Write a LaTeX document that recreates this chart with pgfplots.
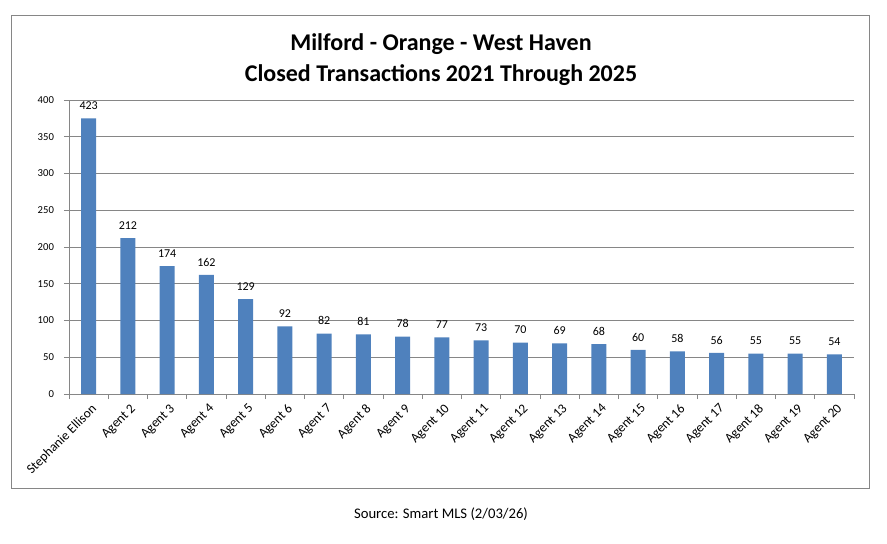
\documentclass[border=0pt]{standalone}
\usepackage{pgfplots}
\pgfplotsset{compat=1.18}
\usepackage{pgfplotstable}
\usepackage{fontspec}
\setmainfont{Carlito}
\definecolor{barblue}{RGB}{79,129,189}
\definecolor{gridgray}{RGB}{134,134,134}
\pgfplotstableread{
x y lab
0 375 423
1 212 212
2 174 174
3 162 162
4 129 129
5 92 92
6 82 82
7 81 81
8 78 78
9 77 77
10 73 73
11 70 70
12 69 69
13 68 68
14 60 60
15 58 58
16 56 56
17 55 55
18 55 55
19 54 54
}\datatable
\begin{document}
\begin{tikzpicture}
\path (-51.75pt,-111.75pt) rectangle (613.5pt,295.5pt);
\draw[gridgray, line width=0.75pt] (-42.75pt,-70.5pt) rectangle (600pt,283.5pt);
\begin{axis}[
  at={(0pt,0pt)}, anchor=south west,
  scale only axis, width=588.75pt, height=220.5pt,
  xmin=-0.5, xmax=19.5, ymin=0, ymax=400,
  ytick={0,50,...,400},
  /pgf/number format/assume math mode=true,
  ymajorgrids, grid style={gridgray, line width=0.75pt},
  axis x line*=bottom, axis y line*=left,
  axis line style={gridgray, line width=0.75pt},
  xtick={0,...,19},
  xticklabels={Stephanie Ellison,Agent 2,Agent 3,Agent 4,Agent 5,Agent 6,Agent 7,Agent 8,Agent 9,Agent 10,Agent 11,Agent 12,Agent 13,Agent 14,Agent 15,Agent 16,Agent 17,Agent 18,Agent 19,Agent 20},
  major x tick style={draw=none},
  minor xtick={-0.5,0.5,...,19.5},
  minor x tick style={gridgray, line width=0.75pt},
  minor tick length=3.75pt,
  major y tick style={gridgray, line width=0.75pt},
  major tick length=3.75pt,
  tick align=outside,
  xticklabel style={rotate=45, anchor=north east, font=\fontsize{10}{12}\selectfont, inner sep=1pt, yshift=-2pt},
  yticklabel style={font=\fontsize{8}{10}\selectfont, xshift=-4pt},
  ybar, bar width=11.25pt,
  nodes near coords, point meta=explicit,
  nodes near coords style={font=\fontsize{9}{11}\selectfont, black, yshift=3pt, /pgf/number format/assume math mode=true},
  clip=false,
]
\addplot[fill=barblue, draw=none] table[x=x,y=y,meta=lab]{\datatable};
\end{axis}
\node[font=\fontsize{18}{21}\selectfont\bfseries] at (279pt,262.5pt) {Milford - Orange - West Haven};
\node[font=\fontsize{18}{21}\selectfont\bfseries] at (279pt,239.25pt) {Closed Transactions 2021 Through 2025};
\node[font=\fontsize{11}{13}\selectfont] at (279pt,-90pt) {Source: Smart MLS (2/03/26)};
\end{tikzpicture}
\end{document}
